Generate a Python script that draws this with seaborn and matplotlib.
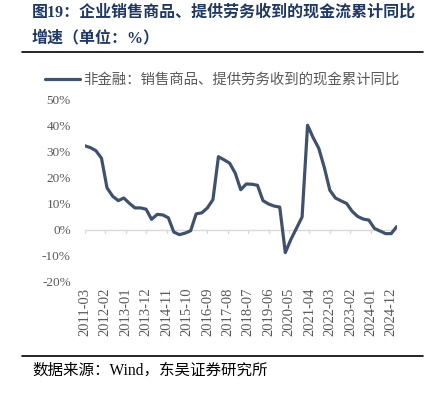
import matplotlib
matplotlib.use("Agg")
import matplotlib.pyplot as plt
from matplotlib.lines import Line2D
import pandas as pd
import seaborn as sns

# quarterly cumulative yoy growth, %
quarters = pd.date_range("2011-03-01", "2025-03-01", freq="3MS")
growth = [
    32.4, 31.7, 30.5, 27.6,
    16.2, 13.0, 11.3, 12.3,
    10.3, 8.5, 8.5, 8.0,
    4.1, 6.0, 5.8, 4.7,
    -0.8, -1.8, -1.2, -0.3,
    6.2, 6.6, 8.5, 11.7,
    28.2, 27.0, 25.7, 21.9,
    15.5, 17.7, 17.6, 17.2,
    11.3, 10.0, 9.2, 8.8,
    -8.7, -3.6, 0.7, 5.0,
    40.3, 35.5, 31.4, 24.0,
    15.3, 12.3, 11.2, 10.2,
    7.2, 5.2, 4.2, 3.8,
    0.6, -0.4, -1.4, -1.4,
    1.3,
]
tick_labels = ["2011-03", "2012-02", "2013-01", "2013-12", "2014-11", "2015-10",
               "2016-09", "2017-08", "2018-07", "2019-06", "2020-05", "2021-04",
               "2022-03", "2023-02", "2024-01", "2024-12"]
series_name = "非金融：销售商品、提供劳务收到的现金累计同比"

df = pd.DataFrame({"date": quarters, "value": growth})

sns.set_style("white")
serif_cjk = ["Liberation Serif", "Noto Sans CJK SC"]
plt.rcParams["font.family"] = serif_cjk

W, H = 431, 396
fig = plt.figure(figsize=(W / 100, H / 100), dpi=100)
ax = fig.add_axes([84.7 / W, 1 - 282 / H, (396.7 - 84.7) / W, 182 / H])

line_color = "#3F516C"
grey = "#595959"
sns.lineplot(data=df, x="date", y="value", ax=ax, color=line_color, linewidth=2.3)

ax.set_xlim(pd.Timestamp("2011-03-01"), pd.Timestamp("2025-03-01"))
ax.set_ylim(-20, 50)
ax.set_yticks(range(-20, 51, 10))
ax.set_yticklabels([f"{v}%" for v in range(-20, 51, 10)], color=grey, fontsize=9.5)

tick_pos = pd.to_datetime(tick_labels)
ax.set_xticks(tick_pos)
ax.set_xticklabels(tick_labels, rotation=90, color=grey, fontsize=10.5)
ax.tick_params(axis="both", length=0, pad=4)
ax.tick_params(axis="y", pad=10)
ax.set_xlabel("")
ax.set_ylabel("")
for s in ax.spines.values():
    s.set_visible(False)

# zero line with small ticks like the category axis
ax.axhline(0, color="#D9D9D9", linewidth=1.0, zorder=0)
for d in tick_pos:
    ax.plot([d, d], [0, -1.3], color="#D9D9D9", linewidth=1.0, zorder=0)

# legend
handle = Line2D([], [], color=line_color, linewidth=2.3)
fig.legend([handle], [series_name], loc="center left",
           bbox_to_anchor=(45 / W, 1 - 80 / H), frameon=False,
           prop={"family": serif_cjk, "size": 10.4}, labelcolor=grey,
           handlelength=2.4, handletextpad=0.25, borderpad=0, borderaxespad=0)

# title, rules and source
title_color = "#1F3864"
fig.text(32 / W, 1 - 13 / H, "图19：企业销售商品、提供劳务收到的现金流累计同比",
         fontsize=11.5, fontweight="bold", color=title_color, va="center")
fig.text(32 / W, 1 - 38 / H, "增速（单位：%）",
         fontsize=11.5, fontweight="bold", color=title_color, va="center")
fig.add_artist(Line2D([22 / W, 423 / W], [1 - 52 / H, 1 - 52 / H],
                      color="black", linewidth=1.2))
fig.add_artist(Line2D([22 / W, 423 / W], [1 - 356 / H, 1 - 356 / H],
                      color="black", linewidth=1.2))
fig.text(32 / W, 1 - 371 / H, "数据来源：Wind，东吴证券研究所",
         fontsize=11.2, color="black", va="center")

fig.savefig("out.png", dpi=100)
